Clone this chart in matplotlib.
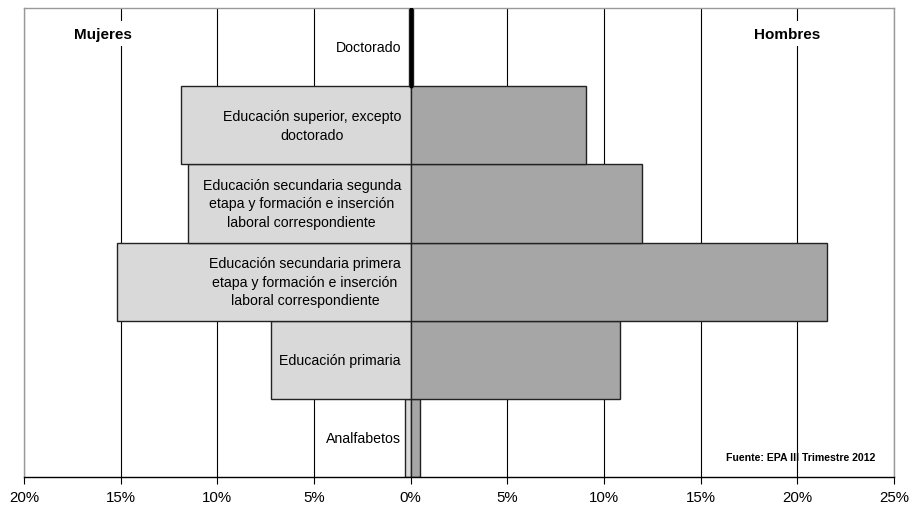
import matplotlib
matplotlib.use("Agg")
import matplotlib.pyplot as plt
import numpy as np

plt.rcParams['font.family'] = ['Liberation Sans', 'DejaVu Sans']

categories = ["Analfabetos", "Educación primaria",
              "Educación secundaria primera\netapa y formación e inserción\nlaboral correspondiente",
              "Educación secundaria segunda\netapa y formación e inserción\nlaboral correspondiente",
              "Educación superior, excepto\ndoctorado",
              "Doctorado"]
mujeres = [0.3, 7.2, 15.2, 11.5, 11.9, 0.1]
hombres = [0.48, 10.85, 21.55, 11.95, 9.05, 0.15]
xticks = [-20, -15, -10, -5, 0, 5, 10, 15, 20, 25]
xticklabels = ["20%", "15%", "10%", "5%", "0%", "5%", "10%", "15%", "20%", "25%"]

fig = plt.figure(figsize=(9.13, 5.06), dpi=100)
ax = fig.add_axes([0.0263, 0.0553, 0.9527, 0.9267])

y = np.arange(len(categories))
ax.set_xlim(-20, 25)
ax.set_ylim(-0.5, len(categories) - 0.5)

for xv in xticks:
    ax.axvline(xv, color='black', lw=0.8, zorder=1)

ax.barh(y, [-m for m in mujeres], height=1.0, color='#d9d9d9', edgecolor='#222222', lw=1.0, zorder=2)
ax.barh(y, hombres, height=1.0, color='#a6a6a6', edgecolor='#222222', lw=1.0, zorder=2)
ax.axvline(0, ymin=5/6, ymax=1, color='black', lw=2.5, zorder=3)

for yi, cat in zip(y, categories):
    ax.text(-0.5, yi, cat, ha='right', va='center', multialignment='center',
            fontsize=10.2, linespacing=1.4, zorder=4)

ax.text(-15.9, 5.17, "Mujeres", ha='center', va='center', fontsize=11, fontweight='bold',
        bbox=dict(facecolor='white', edgecolor='none', pad=4), zorder=4)
ax.text(19.5, 5.17, "Hombres", ha='center', va='center', fontsize=11, fontweight='bold',
        bbox=dict(facecolor='white', edgecolor='none', pad=4), zorder=4)
ax.text(20.2, -0.25, "Fuente: EPA III Trimestre 2012", ha='center', va='center',
        fontsize=7.6, fontweight='bold', zorder=4)

ax.set_xticks(xticks)
ax.set_xticklabels(xticklabels, fontsize=10.8)
ax.set_yticks([])
ax.tick_params(axis='x', direction='out', length=5, width=0.8, pad=4)
for s in ['top', 'right', 'left']:
    ax.spines[s].set_color('#999999')
    ax.spines[s].set_linewidth(1.0)
ax.spines['bottom'].set_color('black')
ax.spines['bottom'].set_linewidth(1.0)

fig.savefig("out.png", dpi=100)
